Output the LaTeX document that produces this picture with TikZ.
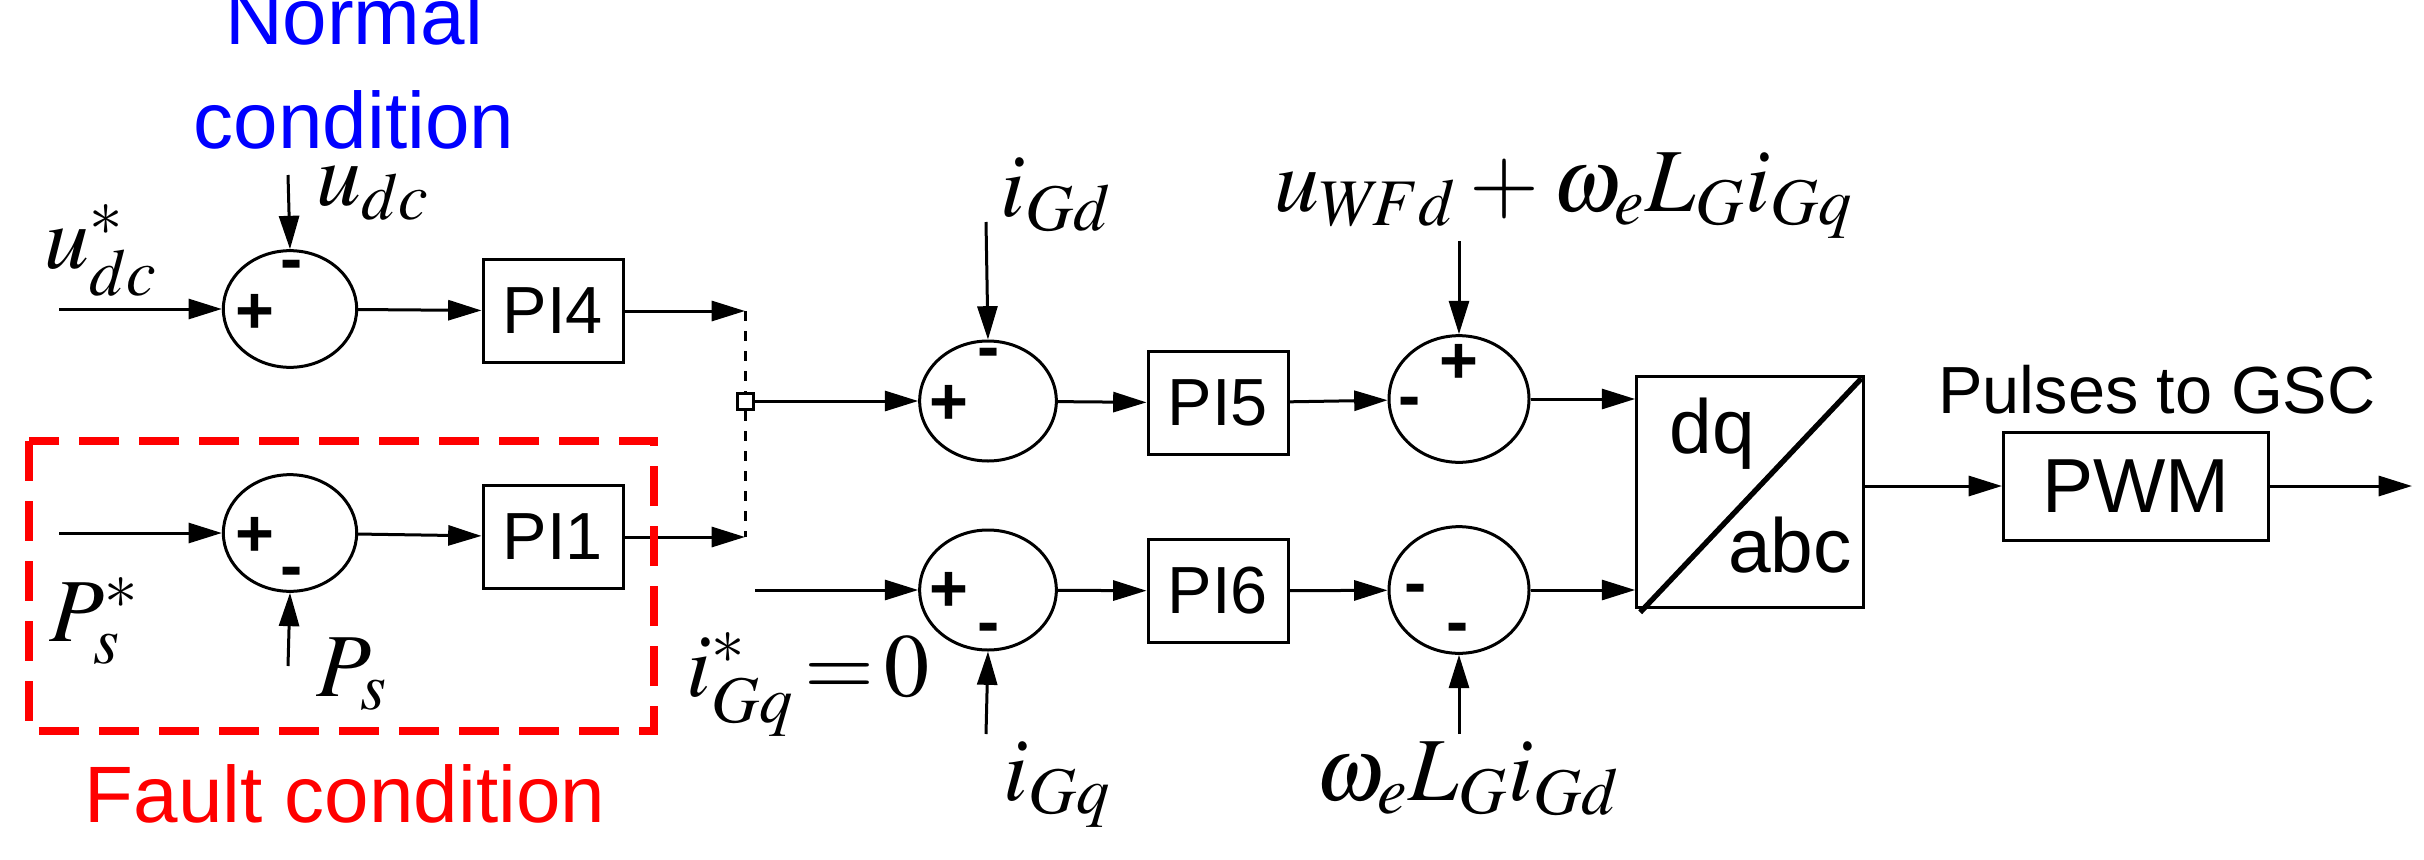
\documentclass[tikz,border=0pt]{standalone}
\usepackage{mathptmx}
\usepackage[no-math]{fontspec}
\setmainfont{Liberation Sans}
\usetikzlibrary{arrows.meta,shapes.geometric}
\tikzset{
  ln/.style={line width=0.9pt},
  arr/.style={ln,-{Triangle[length=10pt,width=6pt]}},
  sumnode/.style={ellipse,draw,ln,minimum width=40pt,minimum height=35pt,inner sep=0pt},
  blk/.style={rectangle,draw,ln,minimum width=42pt,minimum height=31pt,font=\fontsize{20}{20}\selectfont},
  sgn/.style={font=\fontsize{20}{20}\selectfont\bfseries,inner sep=0pt},
  mlab/.style={anchor=base west,inner sep=0pt,font=\fontsize{27}{27}\selectfont},
}
\begin{document}
\begin{tikzpicture}[x=0.3pt,y=-0.3pt]
\useasboundingbox (0,0) rectangle (2424,859);
% left part
\node[sumnode] (s1) at (290,309) {};
\node[sumnode] (s2) at (290,533) {};
\node[blk] (pi4) at (553,311) {PI4};
\node[blk] (pi1) at (553,537) {PI1};
\coordinate (in1) at (59,309);
\coordinate (in2) at (59,533);
\coordinate (udcin) at (288,175);
\coordinate (psin) at (288,666);
\draw[arr] (in1) -- (s1);
\draw[arr] (in2) -- (s2);
\draw[arr] (udcin) -- (s1.north);
\draw[arr] (psin) -- (s2.south);
\draw[arr] (s1) -- (pi4);
\draw[arr] (s2) -- (pi1);
\coordinate (sw1) at (745,311);
\coordinate (sw2) at (745,537);
\draw[arr] (pi4.east) -- (sw1);
\draw[arr] (pi1.east) -- (sw2);
\draw[ln,dashed] (sw1) -- (sw2);
\node[draw,ln,fill=white,minimum size=4.8pt,inner sep=0pt] (sq) at (745,401) {};
\node[sgn] (p1) at (255,314) {+};
\node[sgn] (m1) at (292,271) {-};
\node[sgn] (p2) at (255,537) {+};
\node[sgn] (m2) at (292,578) {-};
% middle
\node[sumnode,minimum width=41pt,minimum height=36pt] (s3) at (988,401) {};
\node[sumnode,minimum width=41pt,minimum height=36pt] (s5) at (988,590) {};
\node[blk] (pi5) at (1218,403) {PI5};
\node[blk] (pi6) at (1218,591) {PI6};
\node[sumnode,minimum width=42pt,minimum height=38pt] (s4) at (1459,399) {};
\node[sumnode,minimum width=42pt,minimum height=38pt] (s6) at (1459,590) {};
\coordinate (in5) at (755,590);
\coordinate (igdin) at (986,222);
\coordinate (igqin) at (986,734);
\coordinate (s4in) at (1459,241);
\coordinate (s6in) at (1459,734);
\draw[arr] (sq) -- (s3);
\draw[arr] (in5) -- (s5);
\draw[arr] (igdin) -- (s3.north);
\draw[arr] (igqin) -- (s5.south);
\draw[arr] (s4in) -- (s4.north);
\draw[arr] (s6in) -- (s6.south);
\draw[arr] (s3) -- (pi5);
\draw[arr] (s5) -- (pi6);
\draw[arr] (pi5) -- (s4);
\draw[arr] (pi6) -- (s6);
\node[sgn] at (949,405) {+};
\node[sgn] at (989,359) {-};
\node[sgn] at (949,592) {+};
\node[sgn] at (989,634) {-};
\node[sgn] at (1410,408) {-};
\node[sgn] at (1459,364) {+};
\node[sgn] at (1416,595) {-};
\node[sgn] at (1458,634) {-};
% dq/abc
\node[rectangle,draw,ln,minimum width=68pt,minimum height=69.3pt,inner sep=0pt] (dq) at (1750,492) {};
\draw[line width=1.6pt] ([shift={(1.5pt,-1pt)}]dq.south west) -- ([shift={(-1pt,-1pt)}]dq.north east);
\node[font=\fontsize{23}{23}\selectfont,inner sep=0pt] (dqt) at (1712,434) {dq};
\node[font=\fontsize{23}{23}\selectfont,inner sep=0pt] (abct) at (1790,545) {abc};
\draw[arr] (s4) -- (s4 -| dq.west);
\draw[arr] (s6) -- (s6 -| dq.west);
\node[blk,minimum width=79.5pt,minimum height=32.4pt,font=\fontsize{23}{23}\selectfont] (pwm) at (2136,486) {PWM};
\coordinate (out) at (2412,486);
\draw[arr] (dq.east |- pwm) -- (pwm);
\draw[arr] (pwm) -- (out);
\node[font=\fontsize{20}{20}\selectfont,inner sep=0pt,anchor=base] (pul) at (2157,413) {Pulses to GSC};
% labels
\node[mlab] (l1) at (44,268) {$u_{dc}^{*}$};
\node[mlab] (l2) at (316,205) {$u_{dc}$};
\node[mlab] (l3) at (49,641) {$P_{s}^{*}$};
\node[mlab] (l4) at (316,696) {$P_{s}$};
\node[mlab] (l5) at (686,696) {$i_{Gq}^{*}\!=\!0$};
\node[mlab] (l6) at (1000,216) {$i_{Gd}$};
\node[mlab] (l7) at (1274,211) {$u_{W\!Fd}+\omega_{e}L_{G}i_{Gq}$};
\node[mlab] (l8) at (1003,800) {$i_{Gq}$};
\node[mlab] (l9) at (1315,800) {$\omega_{e}L_{G}i_{Gd}$};
% conditions
\node[anchor=base,inner sep=0pt,text=blue,font=\fontsize{24}{24}\selectfont] (nc1) at (354,44) {Normal};
\node[anchor=base,inner sep=0pt,text=blue,font=\fontsize{24}{24}\selectfont] (nc2) at (354,148) {condition};
\draw[red,line width=2.4pt,dash pattern=on 12pt off 6pt] (29,441) rectangle (654,731);
\node[anchor=base,inner sep=0pt,text=red,font=\fontsize{24}{24}\selectfont] (fc) at (345,822) {Fault condition};
\end{tikzpicture}
\end{document}
